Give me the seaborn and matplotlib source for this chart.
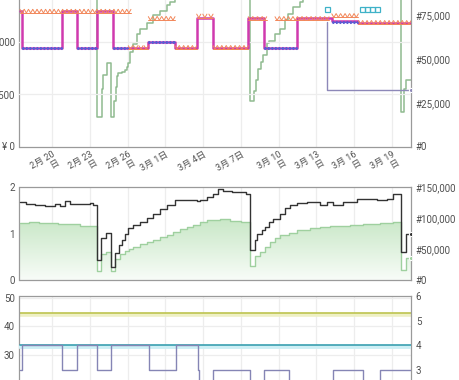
import numpy as np
import matplotlib
matplotlib.use("Agg")
import matplotlib.pyplot as plt
import matplotlib.patheffects as pe
from matplotlib.colors import LinearSegmentedColormap
import seaborn as sns

# ---------------- data (x = days since 2月20日) ----------------
tick_days = [0, 3, 6, 9, 12, 15, 18, 21, 24, 27]
tick_labels = ["2月 20\n日", "2月 23\n日", "2月 26\n日", "3月 1日", "3月 4日",
               "3月 7日", "3月 10\n日", "3月 13\n日", "3月 16\n日", "3月 19\n日"]
x_range = [-2.58, 28.51]

price_ticks = [0, 2500, 5000]
price_labels = ["¥ 0", "¥ 2,500", "¥ 5,000"]
rank_ticks = [0, 25000, 50000, 75000]
rank_labels = ["#0", "#25,000", "#50,000", "#75,000"]
mid_left_ticks = [0, 1, 2]
mid_right_ticks = [0, 50000, 100000, 150000]
mid_right_labels = ["#0", "#50,000", "#100,000", "#150,000"]
bot_left_ticks = [30, 40, 50]
bot_right_ticks = [3, 4, 5, 6]

# Buy box price (step)
buybox_days = [-2.58, -2.41, 0.77, 2.01, 3.55, 4.87, 7.65, 9.77, 11.55, 12.79,
               15.59, 16.86, 19.44, 22.22, 24.33, 28.51]
buybox_price = [6430, 4700, 6430, 4700, 6430, 4700, 5000, 4700, 6130, 4700,
                6130, 4700, 6130, 5967, 5890, 5890]

# New (FBM) price segments - blue dotted
fbm_start = [-2.41, 2.01, 4.87, 7.65, 16.86, 22.22]
fbm_end = [0.77, 3.55, 6.06, 9.77, 19.44, 24.33]
fbm_price = [4700, 4700, 4700, 5000, 4700, 5919]

# New (FBA) price segments - triangles
fba_start = [-2.54, 6.06, 7.65, 9.77, 11.49, 12.79, 15.59, 17.71, 22.22, 24.33]
fba_end = [6.27, 7.65, 9.77, 11.49, 12.79, 15.59, 17.05, 22.0, 24.33, 28.51]
fba_price = [6430, 4700, 6086, 4700, 6205, 4700, 6080, 6080, 6220, 5890]

# cyan squares
cyan_days = [21.82, 24.62, 25.0, 25.4, 25.79]
cyan_price = [6560, 6560, 6560, 6560, 6560]

# used price (thin purple)
used_days = [21.82, 21.82, 28.51]
used_price = [5950, 2714, 2714]

# sales rank (green, right axis, step)
rank_days = [-2.58, 3.55, 3.98, 4.03, 4.39, 4.69, 4.95, 5.05, 5.14, 5.27, 5.54,
             5.80, 5.96, 6.06, 6.2, 6.46, 6.73, 6.99, 7.52, 8.05, 8.58, 9.11,
             9.37, 9.77, 15.73, 16.04, 16.20, 16.39, 16.58, 16.78, 17.05, 17.26,
             17.71, 18.11, 18.51, 18.77, 19.17, 19.70, 19.96, 27.70, 27.96,
             28.09, 28.51]
rank_vals = [120000, 17160, 33010, 41020, 47885, 16770, 26300, 33930, 40050,
             42160, 42500, 43480, 45400, 48000, 53800, 58900, 64600, 67500,
             70900, 75000, 77800, 80700, 82400, 120000, 25900, 32000, 37760,
             44450, 48230, 52060, 59100, 60640, 64480, 67340, 72090, 75520,
             79700, 82550, 120000, 20000, 33000, 37760, 37760]

# middle panel: dark line
dark_days = [-2.58, -2.07, -1.35, -0.56, 0.24, 0.64, 1.03, 1.43, 3.02, 3.26,
             3.55, 3.87, 4.29, 4.69, 5.0, 5.32, 5.54, 5.80, 6.06, 6.46, 6.99,
             7.52, 8.05, 8.58, 9.11, 9.77, 11.49, 11.76, 12.29, 12.81, 13.21,
             13.56, 13.88, 14.3, 15.41, 15.73, 16.12, 16.31, 16.66, 16.92,
             17.26, 17.58, 18.11, 18.51, 18.9, 19.44, 20.23, 21.29, 21.82,
             22.32, 23.11, 24.2, 25.79, 26.58, 27.1, 27.7, 28.09, 28.51]
dark_vals = [1.67, 1.64, 1.61, 1.59, 1.63, 1.60, 1.69, 1.63, 1.65, 1.61,
             0.44, 0.90, 1.01, 0.29, 0.57, 0.75, 0.87, 0.98, 1.11, 1.18, 1.25,
             1.34, 1.43, 1.52, 1.61, 1.72, 1.69, 1.72, 1.78, 1.85, 1.95,
             1.91, 1.92, 1.89, 1.85, 0.65, 0.85, 1.00, 1.07, 1.14,
             1.25, 1.32, 1.43, 1.54, 1.61, 1.65, 1.68, 1.62, 1.68,
             1.61, 1.68, 1.75, 1.72, 1.75, 1.86, 0.60, 1.00, 1.00]

# middle panel: green area line
green_days = [-2.58, -1.8, -1.0, 0.5, 2.2, 3.55, 3.87, 4.29, 4.69, 5.0, 5.4,
              5.8, 6.1, 6.46, 7.0, 7.52, 8.05, 8.58, 9.1, 9.61, 10.15, 10.7,
              11.2, 11.76, 12.29, 13.34, 14.14, 15.0, 15.73, 16.12, 16.5,
              16.92, 17.32, 17.7, 18.11, 18.8, 19.46, 20.49, 21.3, 22.08,
              23.67, 24.7, 26.05, 27.08, 27.7, 28.09, 28.51]
green_vals = [1.23, 1.25, 1.22, 1.20, 1.16, 0.19, 0.55, 0.60, 0.19, 0.46, 0.55,
              0.62, 0.66, 0.71, 0.77, 0.82, 0.87, 0.92, 0.97, 1.03, 1.09, 1.14,
              1.19, 1.25, 1.29, 1.31, 1.27, 1.25, 0.30, 0.51, 0.60,
              0.72, 0.82, 0.90, 0.96, 1.02, 1.07, 1.12, 1.14, 1.16,
              1.19, 1.21, 1.23, 1.25, 0.22, 0.48, 0.48]

# bottom panel
olive_days = [-2.58, 28.51]
olive_vals = [44.7, 44.7]
teal_days = [-2.58, 28.51]
teal_vals = [4.0, 4.0]
offer_days = [-2.58, -2.41, 0.77, 2.01, 3.55, 4.69, 7.7, 9.85, 11.62, 11.7,
              12.81, 15.73, 16.86, 18.85, 22.3, 24.68, 26.05, 28.51]
offer_vals = [3, 4, 3, 4, 3, 4, 3, 4, 3, 2, 3, 2, 3, 2, 3, 2, 3, 3]

# ---------------- style ----------------
sns.set_theme(style="white")
plt.rcParams["font.family"] = ["Roboto", "Noto Sans CJK JP", "DejaVu Sans"]
plt.rcParams["axes.unicode_minus"] = False

C_BB = "#d03aae"
C_FBM = "#5c5cd4"
C_FBA = "#f2875a"
C_CY = "#3fb2c8"
C_USED = "#8d88b8"
C_RANK = "#8fbb8f"
C_DARK = "#333333"
C_GREEN = "#9fd09f"
C_OLIVE = "#bec44e"
C_TEAL = "#3a9fb0"
C_OFFER = "#8585b5"
C_GRID = "#ededed"
C_SPINE = "#9a9a9a"
C_TXT = "#505050"

W, H = 460.0, 380.0
fig = plt.figure(figsize=(W / 100, H / 100), dpi=100)


def rect(l, t, r, b):
    return [l / W, 1 - b / H, (r - l) / W, (b - t) / H]


def line(ax, x, y, **kw):
    sns.lineplot(x=x, y=y, ax=ax, estimator=None, sort=False, errorbar=None,
                 legend=False, **kw)


def style_axes(ax, frame=True):
    for s in ax.spines.values():
        s.set_visible(frame)
        s.set_color(C_SPINE)
        s.set_linewidth(0.9)
    ax.tick_params(length=0, labelsize=7, colors=C_TXT, pad=3.5)
    ax.set(xlabel="", ylabel="")


# ================= top panel =================
ax_rank = fig.add_axes(rect(19.5, -3, 411, 146.5))
ax_price = ax_rank.twinx()
ax_rank.set_zorder(1)
ax_price.set_zorder(2)
ax_price.patch.set_visible(False)

# vertical gridlines
for d in tick_days:
    ax_rank.axvline(d, color=C_GRID, lw=0.9, zorder=0)
for p in price_ticks[1:]:
    ax_price.axhline(p, color=C_GRID, lw=0.9, zorder=0)

line(ax_rank, rank_days, rank_vals, color=C_RANK, lw=1.1, drawstyle="steps-post")

line(ax_price, buybox_days, buybox_price, color=C_BB, lw=1.8, drawstyle="steps-post")
for s, e, p in zip(fbm_start, fbm_end, fbm_price):
    line(ax_price, [s, e], [p, p], color=C_FBM, lw=0.9)
    line(ax_price, [s, e], [p, p], color=C_FBM, lw=2.2, linestyle=(0, (0.55, 0.6)))
tri_fx = [pe.TickedStroke(offset=(0, -1.1), spacing=3.0, angle=60, length=1.0, linewidth=0.7),
          pe.TickedStroke(offset=(0, -1.1), spacing=3.0, angle=120, length=1.0, linewidth=0.7),
          pe.Stroke(offset=(0, -1.1), linewidth=0.7)]
for s, e, p in zip(fba_start, fba_end, fba_price):
    line(ax_price, [s, e], [p, p], color=C_FBA, lw=0.7, path_effects=tri_fx)
line(ax_price, used_days, used_price, color=C_USED, lw=1.0, marker="o", ms=3,
     markevery=[2])
line(ax_price, cyan_days, cyan_price, color=C_CY, linestyle="none", marker="s",
     ms=3.6, markerfacecolor="none", markeredgecolor=C_CY, markeredgewidth=0.9)

ax_rank.set_xlim(*x_range)
ax_rank.set_ylim(0, 149.5 / 43.7 * 25000)
ax_price.set_ylim(0, 149.5 / 52.5 * 2500)
style_axes(ax_rank)
style_axes(ax_price, frame=False)
ax_rank.spines["top"].set_visible(False)
ax_price.yaxis.tick_left()
ax_rank.yaxis.tick_right()
ax_price.set_yticks(price_ticks, price_labels)
ax_rank.set_yticks(rank_ticks, rank_labels)
ax_rank.set_xticks(tick_days, tick_labels)
ax_rank.tick_params(axis="x", labelsize=6.5, pad=2.5)
for lbl in ax_rank.get_xticklabels():
    lbl.set_rotation(30)
    lbl.set_ha("right")
    lbl.set_va("top")
    lbl.set_rotation_mode("anchor")
    lbl.set_multialignment("right")
    lbl.set_linespacing(0.95)

# ================= middle panel =================
ax_mid = fig.add_axes(rect(19.5, 187, 411, 280))
ax_mid_r = ax_mid.twinx()
for d in tick_days:
    ax_mid.axvline(d, color=C_GRID, lw=0.9, zorder=0)

poly = ax_mid.fill_between(green_days, green_vals, 0, step="post", color="none", lw=0)
cmap = LinearSegmentedColormap.from_list("gfade", ["#f8fcf8", "#c8e7c6"])
grad = np.linspace(0, 1, 256).reshape(-1, 1)
im = ax_mid.imshow(grad, extent=[x_range[0], x_range[1], 0, 1.32], origin="lower",
                   aspect="auto", cmap=cmap, zorder=1)
im.set_clip_path(poly.get_paths()[0], transform=ax_mid.transData)

line(ax_mid, green_days, green_vals, color=C_GREEN, lw=1.0, drawstyle="steps-post",
     marker="o", ms=3, markevery=[-1], zorder=3)
line(ax_mid, dark_days, dark_vals, color=C_DARK, lw=1.0, drawstyle="steps-post",
     marker="o", ms=3, markevery=[-1], zorder=4)

ax_mid.set_xlim(*x_range)
ax_mid.set_ylim(0, 2)
ax_mid_r.set_ylim(0, 150000)
style_axes(ax_mid)
style_axes(ax_mid_r, frame=False)
ax_mid.set_yticks(mid_left_ticks, [str(v) for v in mid_left_ticks])
ax_mid_r.set_yticks(mid_right_ticks, mid_right_labels)
ax_mid.set_xticks(tick_days)
ax_mid.tick_params(axis="x", labelbottom=False)

# ================= bottom panel =================
ax_bot = fig.add_axes(rect(19.5, 296, 411, 400))
ax_bot_r = ax_bot.twinx()
for d in tick_days:
    ax_bot.axvline(d, color=C_GRID, lw=0.9, zorder=0)
for v in bot_left_ticks:
    ax_bot.axhline(v, color=C_GRID, lw=0.9, zorder=0)

line(ax_bot, olive_days, olive_vals, color=C_OLIVE, lw=1.2,
     path_effects=[pe.Stroke(offset=(0, -1.3), linewidth=2.6, foreground="#eef0c4"),
                   pe.Normal()])
line(ax_bot_r, teal_days, teal_vals, color=C_TEAL, lw=1.2,
     path_effects=[pe.Stroke(offset=(0, -1.5), linewidth=2.8, foreground="#cdeff5"),
                   pe.Normal()])
line(ax_bot_r, offer_days, offer_vals, color=C_OFFER, lw=1.0, drawstyle="steps-post")

ax_bot.set_xlim(*x_range)
ax_bot.set_ylim(50.7 - 104 / 2.85, 50.7)
ax_bot_r.set_ylim(6 - 104 / 24.6, 6)
style_axes(ax_bot)
style_axes(ax_bot_r, frame=False)
ax_bot.set_yticks(bot_left_ticks, [str(v) for v in bot_left_ticks])
ax_bot_r.set_yticks(bot_right_ticks, [str(v) for v in bot_right_ticks])
ax_bot.set_xticks(tick_days)
ax_bot.tick_params(axis="x", labelbottom=False)

fig.savefig("out.png", dpi=100)
